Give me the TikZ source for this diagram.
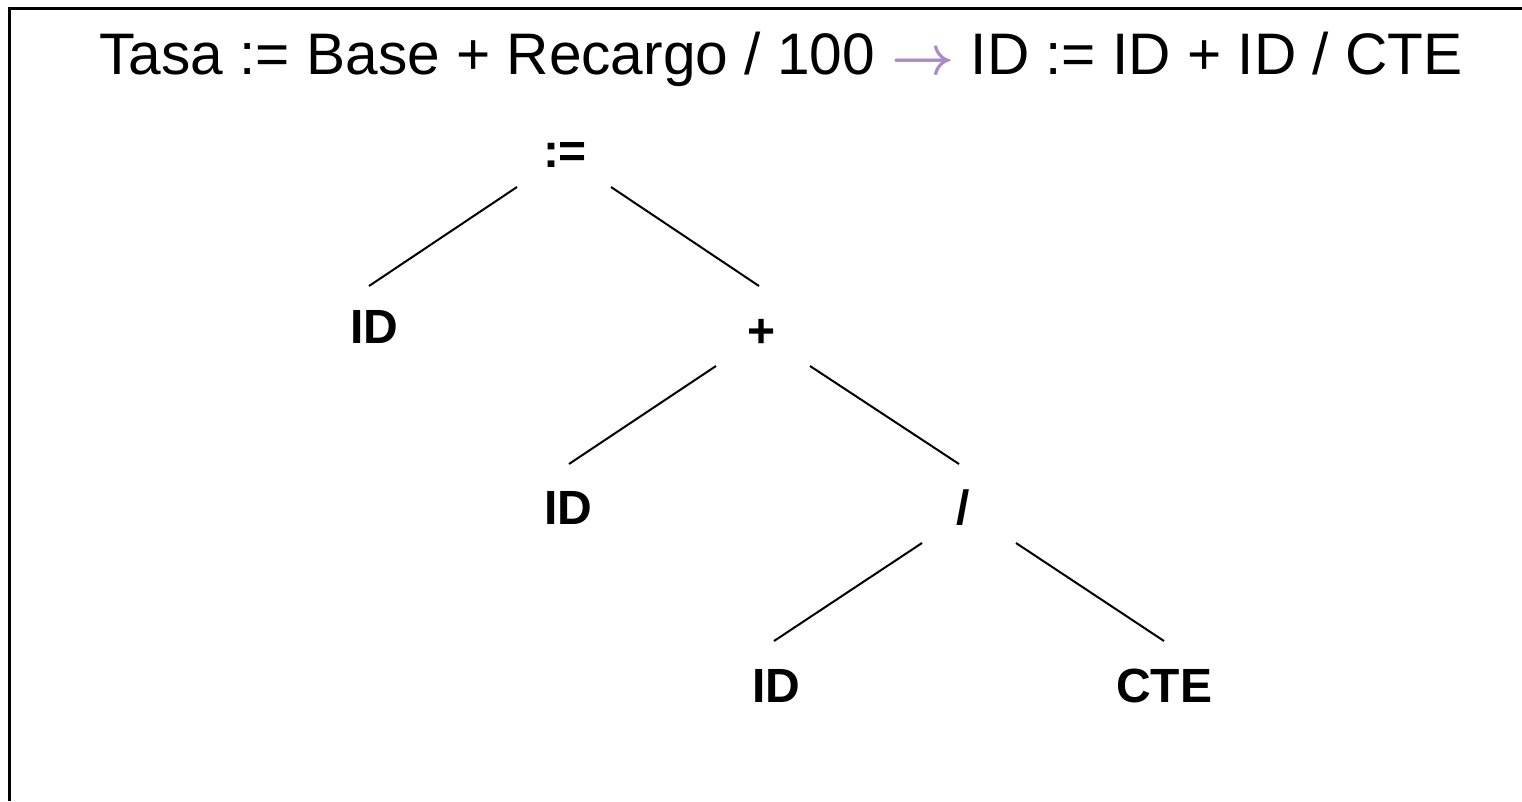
\documentclass[tikz,border=0pt]{standalone}
\usepackage{fontspec}
\setmainfont{Liberation Sans}
\usetikzlibrary{calc}
\definecolor{arrowpurple}{RGB}{168,138,200}
\newcommand{\bigarrow}{\textcolor{arrowpurple}{\scalebox{5.5}{\normalsize\boldmath$\rightarrow$}}}
\tikzset{
  tlabel/.style={anchor=base, inner sep=0pt, font=\fontsize{48pt}{50pt}\selectfont\bfseries},
  title/.style={anchor=base, inner sep=0pt, font=\fontsize{58.6pt}{60pt}\selectfont},
  edge/.style={line width=2pt, black},
  frame/.style={line width=3pt, black}
}
\begin{document}
\begin{tikzpicture}[x=1pt,y=-1pt]
\useasboundingbox (0,0) rectangle (1522,801);
\draw[frame] (9.5,801) -- (9.5,8.5) -- (1522,8.5);
\node[title] (t) at (781,74) {Tasa := Base + Recargo / 100 \bigarrow\ ID := ID + ID / CTE};
\node[tlabel] (root) at (565,167) {:=};
\node[tlabel] (id1) at (374,343) {ID};
\node[tlabel] (plus) at (762,347) {+};
\node[tlabel] (id2) at (568,524) {ID};
\node[tlabel] (div) at (963,524) {/};
\node[tlabel] (id3) at (776,702) {ID};
\node[tlabel] (cte) at (1164,702) {CTE};
\draw[edge] ($(root.base)+(-48,20)$) -- ($(id1.base)+(-5,-57)$);
\draw[edge] ($(root.base)+(46,20)$) -- ($(plus.base)+(-3,-61)$);
\draw[edge] ($(plus.base)+(-46,19)$) -- ($(id2.base)+(1,-60)$);
\draw[edge] ($(plus.base)+(48,19)$) -- ($(div.base)+(-4,-60)$);
\draw[edge] ($(div.base)+(-41,19)$) -- ($(id3.base)+(-2,-61)$);
\draw[edge] ($(div.base)+(53,19)$) -- ($(cte.base)+(0,-61)$);
\end{tikzpicture}
\end{document}
